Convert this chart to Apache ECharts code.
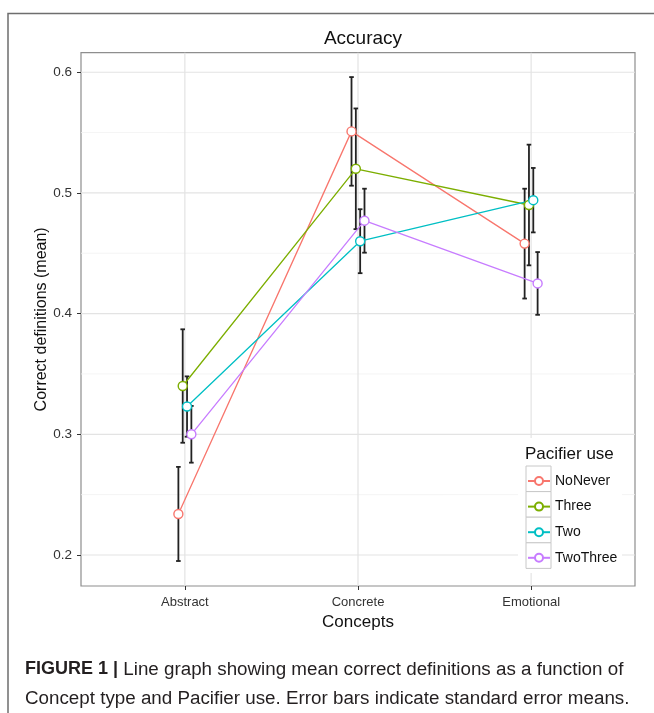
<!DOCTYPE html>
<html>
<head>
<meta charset="utf-8">
<script src="https://cdn.jsdelivr.net/npm/echarts@6/dist/echarts.min.js"></script>
<style>
html,body{margin:0;padding:0;background:#fff;}
#chart{width:654px;height:713px;}
</style>
</head>
<body>
<div id="chart"></div>
<script>
var categories = ['Abstract', 'Concrete', 'Emotional'];
var groups = ['NoNever', 'Three', 'Two', 'TwoThree'];
var meanNoNever  = [0.234, 0.551, 0.458];
var meanThree    = [0.340, 0.520, 0.490];
var meanTwo      = [0.323, 0.460, 0.494];
var meanTwoThree = [0.300, 0.477, 0.425];
var seNoNever  = [0.039, 0.045, 0.0455];
var seThree    = [0.047, 0.050, 0.050];
var seTwo      = [0.025, 0.0265, 0.0267];
var seTwoThree = [0.0235, 0.0265, 0.026];
var yMajorTicks = [0.2, 0.3, 0.4, 0.5, 0.6];
var yMinorTicks = [0.25, 0.35, 0.45, 0.55];

var means = [meanNoNever, meanThree, meanTwo, meanTwoThree];
var ses = [seNoNever, seThree, seTwo, seTwoThree];
var colors = ['#F8766D', '#7CAE00', '#00BFC4', '#C77CFF'];
var dodge = [-0.0375, -0.0125, 0.0125, 0.0375];
var FONT = '"Liberation Sans", Arial, sans-serif';

var chart = echarts.init(document.getElementById('chart'));

var series = [];
// grid lines (drawn through the axes)
series.push({
  type: 'custom', silent: true, z: 1,
  data: yMajorTicks.map(function (v) { return [1, v, 1]; })
    .concat(yMinorTicks.map(function (v) { return [1, v, 0]; })),
  encode: { x: 0, y: 1 },
  renderItem: function (params, api) {
    var cs = params.coordSys;
    var y = api.coord([1, api.value(1)])[1];
    var major = api.value(2) === 1;
    return { type: 'line', shape: { x1: cs.x, y1: y, x2: cs.x + cs.width, y2: y },
      style: { stroke: major ? '#E3E3E3' : '#F1F1F1', lineWidth: major ? 1.2 : 0.8 } };
  }
});
series.push({
  type: 'custom', silent: true, z: 1,
  data: categories.map(function (c, i) { return [i + 1, 0.4]; }),
  encode: { x: 0, y: 1 },
  renderItem: function (params, api) {
    var cs = params.coordSys;
    var x = api.coord([api.value(0), 0.4])[0];
    return { type: 'line', shape: { x1: x, y1: cs.y, x2: x, y2: cs.y + cs.height },
      style: { stroke: '#E3E3E3', lineWidth: 1.2 } };
  }
});
// error bars
groups.forEach(function (g, gi) {
  series.push({
    type: 'custom', silent: true, z: 2,
    data: categories.map(function (c, i) {
      return [i + 1 + dodge[gi], means[gi][i] - ses[gi][i], means[gi][i] + ses[gi][i]];
    }),
    encode: { x: 0, y: [1, 2] },
    renderItem: function (params, api) {
      var x = api.value(0);
      var a = api.coord([x, api.value(1)]);
      var b = api.coord([x, api.value(2)]);
      var hw = 2.3;
      var st = { stroke: '#222', lineWidth: 1.8 };
      return { type: 'group', children: [
        { type: 'line', shape: { x1: a[0], y1: a[1], x2: b[0], y2: b[1] }, style: st },
        { type: 'line', shape: { x1: a[0] - hw, y1: a[1], x2: a[0] + hw, y2: a[1] }, style: st },
        { type: 'line', shape: { x1: b[0] - hw, y1: b[1], x2: b[0] + hw, y2: b[1] }, style: st }
      ] };
    }
  });
});
// lines + points
groups.forEach(function (g, gi) {
  series.push({
    type: 'line', name: g, z: 3,
    data: categories.map(function (c, i) { return [i + 1 + dodge[gi], means[gi][i]]; }),
    symbol: 'circle', symbolSize: 9, showSymbol: true,
    lineStyle: { color: colors[gi], width: 1.3 },
    itemStyle: { color: '#fff', borderColor: colors[gi], borderWidth: 1.4 },
    emphasis: { disabled: true },
    animation: false
  });
});

var keyBoxes = [0, 1, 2, 3].map(function (i) {
  return { type: 'rect', z: 11, shape: { x: 526, y: 466 + i * 25.6, width: 25, height: 25.6 },
    style: { fill: '#fff', stroke: '#C8C8C8', lineWidth: 1 } };
});

chart.setOption({
  animation: false,
  textStyle: { fontFamily: FONT },
  title: [
    { text: 'Accuracy', left: 358, top: 24, textAlign: 'center', z: 20,
      textStyle: { fontFamily: FONT, fontSize: 19, fontWeight: 'normal', color: '#111' } },
    { text: 'Pacifier use', left: 525, top: 446, z: 20, padding: 0,
      textStyle: { fontFamily: FONT, fontSize: 17, fontWeight: 'normal', color: '#111' } }
  ],
  grid: { left: 81, top: 52.7, width: 554, height: 533.3, show: true,
    borderColor: '#8E8E8E', borderWidth: 1.2, backgroundColor: 'transparent' },
  xAxis: {
    type: 'value', min: 0.4, max: 3.6,
    name: 'Concepts', nameLocation: 'middle', nameGap: 27,
    nameTextStyle: { fontFamily: FONT, fontSize: 17, color: '#111' },
    axisLine: { show: false },
    axisTick: { show: true, length: 4, customValues: [1, 2, 3], lineStyle: { color: '#333', width: 1 } },
    axisLabel: { customValues: [1, 2, 3], margin: 10, fontSize: 13, color: '#333', fontFamily: FONT,
      formatter: function (v) { return categories[Math.round(v) - 1] || ''; } },
    splitLine: { show: false }
  },
  yAxis: {
    type: 'value', min: 0.1743, max: 0.6162,
    name: 'Correct definitions (mean)', nameLocation: 'middle', nameGap: 31, nameMoveOverlap: false,
    nameTextStyle: { fontFamily: FONT, fontSize: 16, color: '#111' },
    axisLine: { show: false },
    axisTick: { show: true, length: 4, customValues: yMajorTicks, lineStyle: { color: '#333', width: 1 } },
    axisLabel: { customValues: yMajorTicks, margin: 9, fontSize: 13.5, color: '#333', fontFamily: FONT,
      formatter: function (v) { return v.toFixed(1); } },
    splitLine: { show: false }
  },
  legend: {
    data: groups, orient: 'vertical', left: 527, top: 473, z: 20, padding: 0,
    itemWidth: 22, itemHeight: 10, itemGap: 9.6,
    textStyle: { fontFamily: FONT, fontSize: 14, color: '#111', lineHeight: 16 },
    selectedMode: false
  },
  graphic: [
    { type: 'rect', z: 10, shape: { x: 518, y: 438, width: 104, height: 135 }, style: { fill: '#fff' } }
  ].concat(keyBoxes).concat([
    { type: 'polyline', z: 10, shape: { points: [[8, 713], [8, 13.5], [654, 13.5]] },
      style: { stroke: '#6E6E6E', lineWidth: 1.5, fill: null } },
    { type: 'text', z: 10, left: 25, top: 655,
      style: { text: '{b|FIGURE 1 |} Line graph showing mean correct definitions as a function of\nConcept type and Pacifier use. Error bars indicate standard error means.',
        rich: { b: { fontWeight: 'bold', fontSize: 18, fontFamily: FONT, fill: '#231F20' } },
        font: '18.8px ' + FONT, fill: '#231F20', lineHeight: 29 } }
  ]),
  series: series
});
</script>
</body>
</html>
